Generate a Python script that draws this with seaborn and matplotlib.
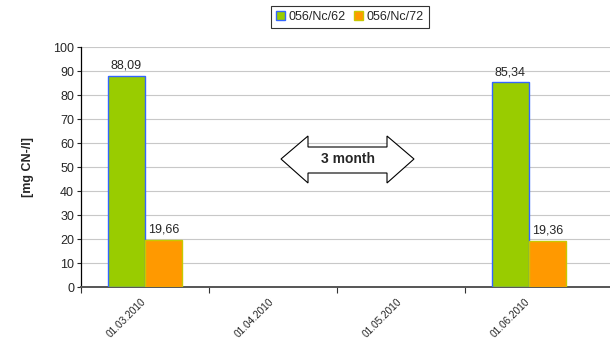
import matplotlib
matplotlib.use("Agg")
import matplotlib.pyplot as plt
import matplotlib.transforms as mtransforms
from matplotlib.patches import Polygon, Patch
import seaborn as sns
import pandas as pd
import numpy as np

categories = ["01.03.2010", "01.04.2010", "01.05.2010", "01.06.2010"]
measured_dates = ["01.03.2010", "01.06.2010"]
series_names = ["056/Nc/62", "056/Nc/72"]
values_nc62 = [88.09, 85.34]
values_nc72 = [19.66, 19.36]
yticks = list(range(0, 101, 10))

fill_colors = ["#99cc00", "#ff9900"]
edge_colors = ["#3366ff", "#c8c800"]

df = pd.DataFrame({
    "date": measured_dates * 2,
    "series": [series_names[0]] * 2 + [series_names[1]] * 2,
    "value": values_nc62 + values_nc72,
})

sns.set_style("white")
plt.rcParams["font.family"] = ["Liberation Sans", "DejaVu Sans"]

fig = plt.figure(figsize=(6.10, 3.41), dpi=100)
W, H = 610, 341
left, right, top, bottom = 81, 610, 47, 287
ax = fig.add_axes([left / W, 1 - bottom / H, (right - left) / W, (bottom - top) / H])

sns.barplot(data=df, x="date", y="value", hue="series", order=categories,
            hue_order=series_names, palette=fill_colors, width=0.58,
            gap=0, saturation=1, ax=ax, legend=False, zorder=3)

for cont, ec in zip(ax.containers, edge_colors):
    for bar in cont:
        bar.set_edgecolor(ec)
        bar.set_linewidth(1.0)
    ax.bar_label(cont, labels=[f"{b.get_height():.2f}".replace(".", ",") for b in cont],
                 padding=3, fontsize=9)

cat_w = 128.0
ax.set_xlim(-0.5, -0.5 + (right - left) / cat_w)
ax.set_ylim(0, 100)
ax.set_yticks(yticks)
ax.tick_params(axis="y", labelsize=9, length=3, width=0.8, pad=2, left=True)
ax.yaxis.grid(True, color="#c8c8c8", linewidth=0.8, zorder=0)
ax.set_axisbelow(True)

ax.set_xticks(np.arange(len(categories)))
ax.set_xticklabels(categories, rotation=45, ha="right", rotation_mode="anchor", fontsize=7.3)
ax.tick_params(axis="x", length=0, pad=7)
shift = mtransforms.ScaledTranslation(-4 / 100, 0, fig.dpi_scale_trans)
for lbl in ax.get_xticklabels():
    lbl.set_transform(lbl.get_transform() + shift)
ax.set_xticks(np.arange(len(categories)) - 0.5, minor=True)
ax.tick_params(axis="x", which="minor", length=4, width=0.8, color="#333333", bottom=True)

for s in ["top", "right"]:
    ax.spines[s].set_visible(False)
ax.spines["left"].set_color("black")
ax.spines["left"].set_linewidth(0.9)
ax.spines["bottom"].set_color("#555555")
ax.spines["bottom"].set_linewidth(1.4)
ax.set_xlabel("")
ax.set_ylabel("[mg CN-/l]", fontsize=9, fontweight="bold", labelpad=14)

# double-headed "3 month" arrow (pixel outline in figure space)
pts = [(281, 159), (308, 136), (308, 147), (387, 147), (387, 136), (414, 159),
       (387, 183), (387, 173), (308, 173), (308, 183)]
arrow = Polygon([(x / W, 1 - y / H) for x, y in pts], closed=True, transform=fig.transFigure,
                facecolor="white", edgecolor="black", linewidth=0.8, zorder=5)
fig.patches.append(arrow)
fig.text(348 / W, 1 - 159 / H, "3 month", ha="center", va="center",
         fontsize=10, fontweight="bold", zorder=6)

handles = [Patch(facecolor=fc, edgecolor=ec, linewidth=1.0) for fc, ec in zip(fill_colors, edge_colors)]
leg = fig.legend(handles, series_names, loc="center", bbox_to_anchor=(350 / W, 1 - 17 / H),
                 ncol=2, fontsize=9, frameon=True, fancybox=False, handlelength=0.7,
                 handleheight=0.7, handletextpad=0.3, columnspacing=0.7, borderpad=0.4,
                 borderaxespad=0)
leg.get_frame().set_edgecolor("black")
leg.get_frame().set_linewidth(0.8)

fig.savefig("out.png", dpi=100)
